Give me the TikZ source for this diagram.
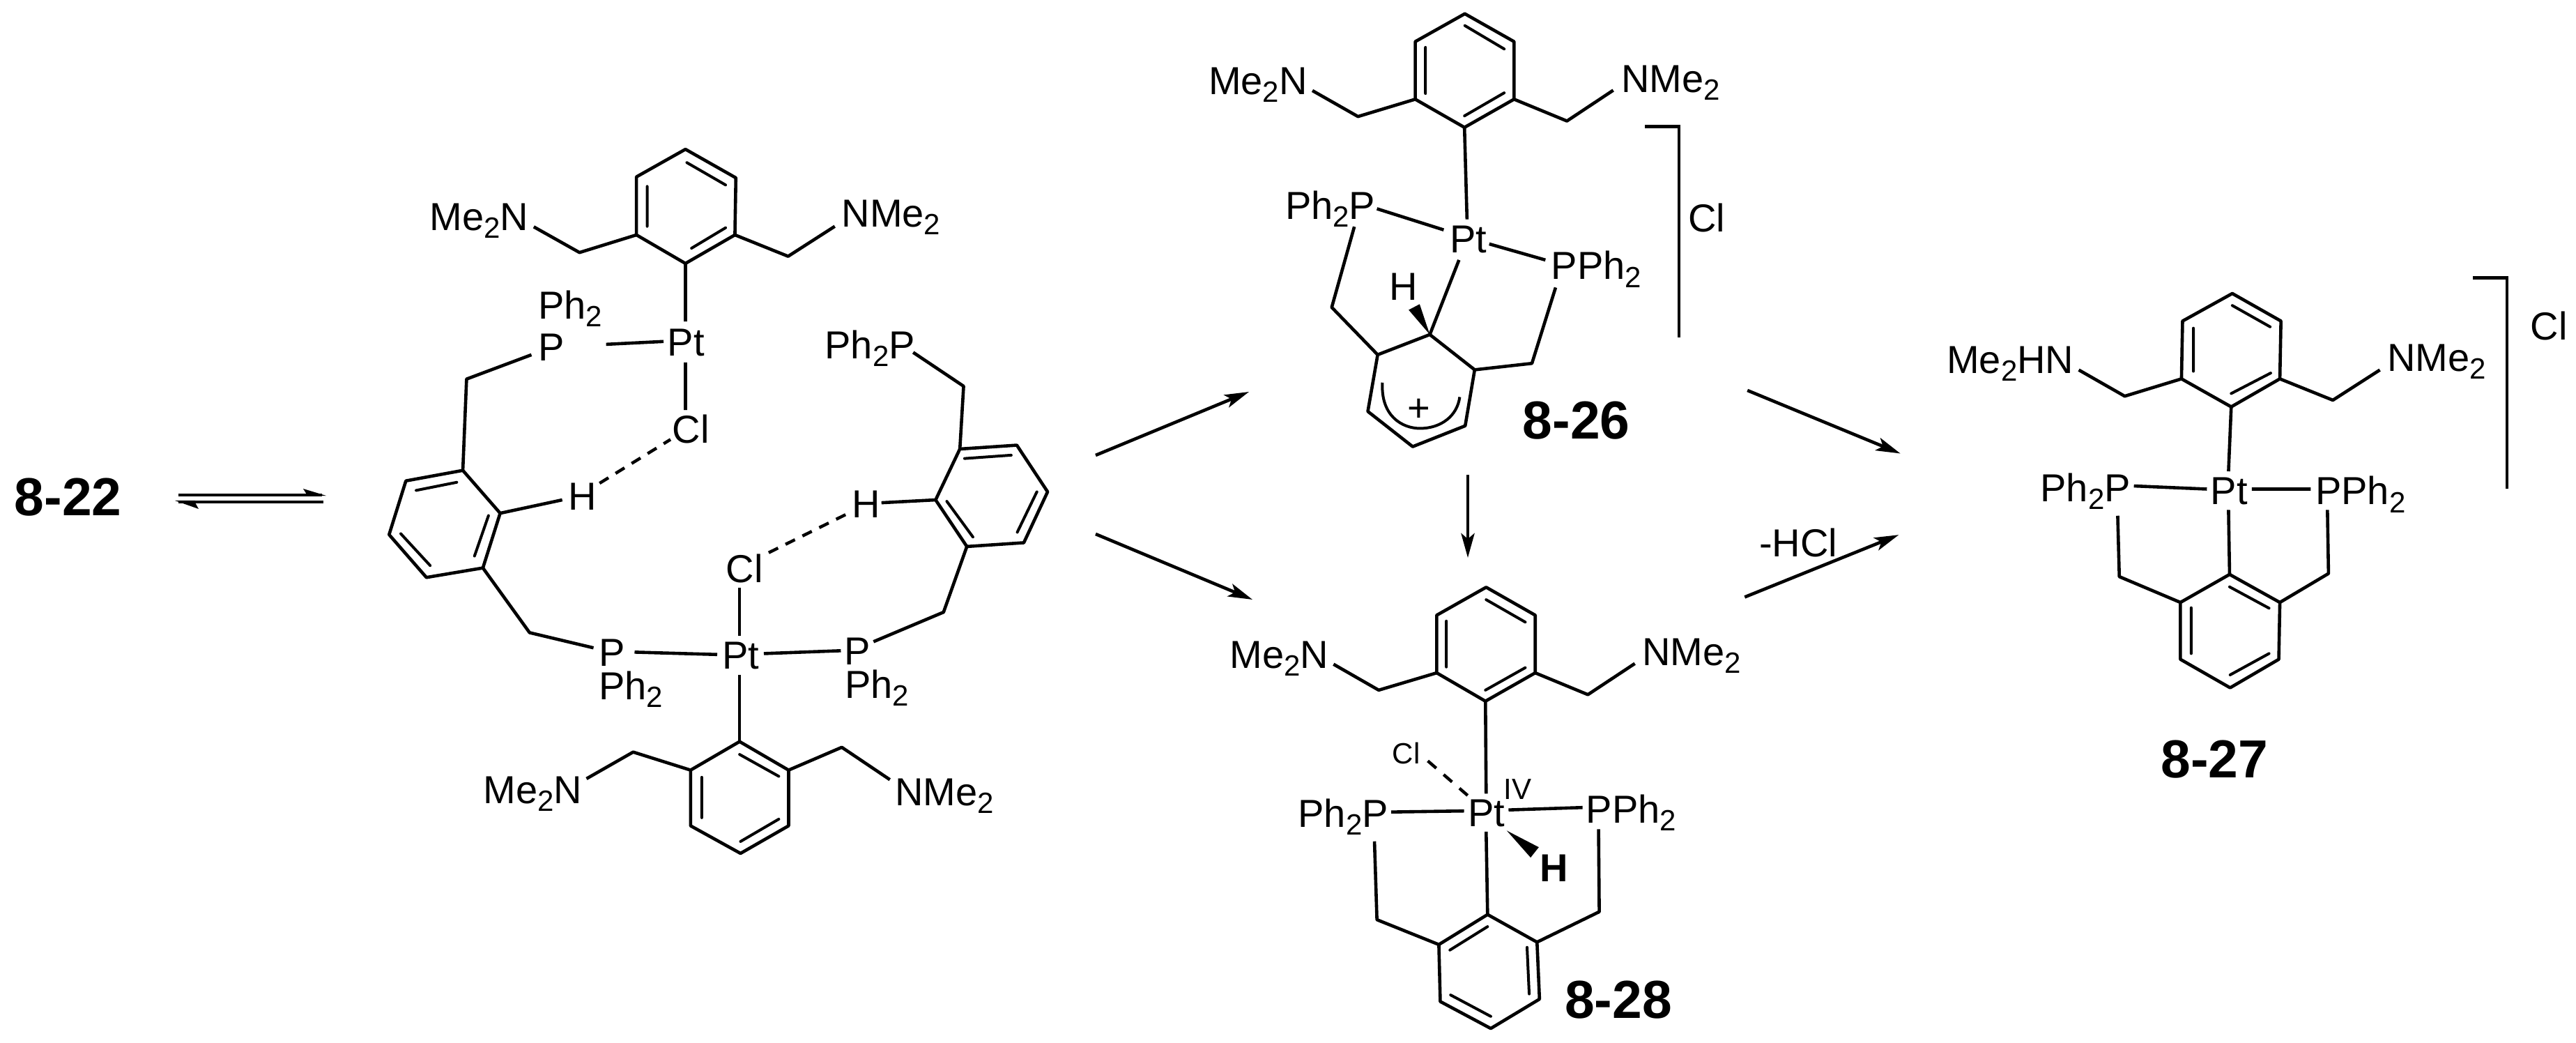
\documentclass[tikz,border=0pt]{standalone}
\usepackage{fontspec}
\setmainfont{Liberation Sans}
\usetikzlibrary{arrows.meta}
\newcommand{\sbt}[1]{\raisebox{-2.8pt}{\fontsize{10.5}{10.5}\selectfont #1}}
\tikzset{
  lbl/.style={anchor=base west,inner sep=0pt,outer sep=0pt,xshift=-.2pt,font=\fontsize{14}{16}\selectfont},
  small/.style={anchor=base west,inner sep=0pt,outer sep=0pt,xshift=-.2pt,font=\fontsize{10.5}{12}\selectfont},
  cmpd/.style={anchor=base west,inner sep=0pt,outer sep=0pt,font=\fontsize{19.2}{22}\selectfont\bfseries},
  bond/.style={line width=1.15pt,line join=round},
  dblb/.style={line width=1pt,line cap=round},
  hbond/.style={line width=1.1pt,dash pattern=on 3.75pt off 3pt},
  rxn/.style={line width=1.15pt,-{Stealth[length=8.75pt,width=4.8pt,inset=2pt]}},
  brk/.style={line width=1.15pt,line join=miter},
  zA/.style={shift={(125pt,-45pt)},x=0.1674pt,y=-0.1706pt},
  zB/.style={shift={(420pt,0pt)},x=0.1308pt,y=-0.1148pt},
  zC/.style={shift={(425pt,-180pt)},x=0.1276pt,y=-0.1238pt},
  zD/.style={shift={(620pt,-37.5pt)},x=0.1939pt,y=-0.1594pt},
  px/.style={x=0.25pt,y=-0.25pt}
}
\begin{document}
\begin{tikzpicture}
\useasboundingbox (0,0) rectangle (924pt,-374pt);
% ---------- left label and equilibrium arrows
\begin{scope}[px]
\node[cmpd] (n822) at (21,740) {8-22};
\path (256,710) coordinate (eqa1) (462,710) coordinate (eqa2) (468,711) coordinate (eqa3) (435,701) coordinate (eqa4)
      (464,720) coordinate (eqb1) (256,720) coordinate (eqb2) (251,718) coordinate (eqb3) (285,730) coordinate (eqb4);
\draw[bond] (eqa1) -- (eqa2);
\fill (eqa3) -- (eqa4) -- (440,709) -- (440,712) -- cycle;
\draw[bond] (eqb1) -- (eqb2);
\fill (eqb3) -- (eqb4) -- (280,721) -- (280,718) -- cycle;
% reaction arrows
\path (1572,653) coordinate (r1s) (1792,562) coordinate (r1e)
      (1572,766) coordinate (r2s) (1797,860) coordinate (r2e)
      (2106,681) coordinate (r3s) (2106,800) coordinate (r3e);
\draw[rxn] (r1s) -- (r1e);
\draw[rxn] (r2s) -- (r2e);
\draw[rxn] (r3s) -- (r3e);
\end{scope}
% ---------- structure 8-22 dimer
\begin{scope}[zA]
\path (722,50) coordinate (a1) (830,110) coordinate (a2) (828,230) coordinate (a3) (722,290) coordinate (a4) (617,230) coordinate (a5) (617,108) coordinate (a6)
 (725,78) coordinate (ai1) (808,125) coordinate (ai2) (640,128) coordinate (ai3) (640,212) coordinate (ai4) (808,215) coordinate (ai5) (735,258) coordinate (ai6)
 (495,267) coordinate (am1) (397,213) coordinate (am2) (942,275) coordinate (am3) (1042,212) coordinate (am4)
 (722,412) coordinate (apt1) (552,460) coordinate (ap1) (675,454) coordinate (apt2) (722,498) coordinate (apt3) (722,598) coordinate (acl)
 (392,482) coordinate (ap2) (253,533) coordinate (ach)
 (245,725) coordinate (b1) (325,815) coordinate (b2) (288,930) coordinate (b3) (167,950) coordinate (b4) (87,860) coordinate (b5) (123,747) coordinate (b6)
 (232,750) coordinate (bi1) (145,767) coordinate (bi2) (300,820) coordinate (bi3) (270,905) coordinate (bi4) (175,925) coordinate (bi5) (112,858) coordinate (bi6)
 (458,787) coordinate (bh) (538,752) coordinate (bd1) (690,660) coordinate (bd2)
 (388,1066) coordinate (bm) (525,1098) coordinate (bp)
 (613,1107) coordinate (cp1) (790,1112) coordinate (cpt1) (890,1110) coordinate (cpt2) (1055,1104) coordinate (cp2)
 (1125,1085) coordinate (cp3) (1275,1023) coordinate (cm)
 (1325,885) coordinate (d1) (1447,877) coordinate (d2) (1498,770) coordinate (d3) (1432,672) coordinate (d4) (1310,680) coordinate (d5) (1258,787) coordinate (d6)
 (1320,700) coordinate (di1) (1420,693) coordinate (di2) (1475,770) coordinate (di3) (1433,855) coordinate (di4) (1338,865) coordinate (di5) (1282,790) coordinate (di6)
 (1142,793) coordinate (dh) (1065,818) coordinate (dd1) (892,902) coordinate (dd2)
 (838,972) coordinate (ccl1) (838,1072) coordinate (ccl2)
 (1210,477) coordinate (dp) (1318,548) coordinate (dm)
 (838,1155) coordinate (cc1) (838,1295) coordinate (e1) (943,1355) coordinate (e2) (943,1472) coordinate (e3) (840,1530) coordinate (e4) (733,1472) coordinate (e5) (733,1355) coordinate (e6)
 (838,1322) coordinate (ei1) (922,1368) coordinate (ei2) (922,1458) coordinate (ei3) (840,1505) coordinate (ei4) (757,1370) coordinate (ei5) (757,1455) coordinate (ei6)
 (610,1317) coordinate (em1) (510,1373) coordinate (em2) (1057,1307) coordinate (em3) (1160,1375) coordinate (em4);
\draw[bond] (a1)--(a2)--(a3)--(a4)--(a5)--(a6)--cycle;
\draw[dblb] (ai1)--(ai2) (ai3)--(ai4) (ai5)--(ai6);
\draw[bond] (a5)--(am1)--(am2) (a3)--(am3)--(am4);
\draw[bond] (a4)--(apt1) (ap1)--(apt2) (apt3)--(acl);
\draw[bond] (ap2)--(ach)--(b1);
\draw[bond] (b1)--(b2)--(b3)--(b4)--(b5)--(b6)--cycle;
\draw[dblb] (bi1)--(bi2) (bi3)--(bi4) (bi5)--(bi6);
\draw[bond] (b2)--(bh);
\draw[hbond] (bd1)--(bd2);
\draw[bond] (b3)--(bm)--(bp);
\draw[bond] (cp1)--(cpt1) (cpt2)--(cp2);
\draw[bond] (cp3)--(cm)--(d1);
\draw[bond] (d1)--(d2)--(d3)--(d4)--(d5)--(d6)--cycle;
\draw[dblb] (di1)--(di2) (di3)--(di4) (di5)--(di6);
\draw[bond] (d6)--(dh);
\draw[hbond] (dd1)--(dd2);
\draw[bond] (ccl1)--(ccl2);
\draw[bond] (dp)--(dm)--(d5);
\draw[bond] (cc1)--(e1);
\draw[bond] (e1)--(e2)--(e3)--(e4)--(e5)--(e6)--cycle;
\draw[dblb] (ei1)--(ei2) (ei3)--(ei4) (ei5)--(ei6);
\draw[bond] (e6)--(em1)--(em2) (e2)--(em3)--(em4);
\node[lbl] (am) at (175,220) {Me\sbt{2}N};
\node[lbl] (an) at (1058,213) {NMe\sbt{2}};
\node[lbl] (apt) at (685,485) {Pt};
\node[lbl] (aph) at (408,407) {Ph\sbt{2}};
\node[lbl] (ap) at (408,495) {P};
\node[lbl] (acll) at (695,668) {Cl};
\node[lbl] (bhh) at (472,808) {H};
\node[lbl] (bpp) at (538,1137) {P};
\node[lbl] (bph) at (538,1207) {Ph\sbt{2}};
\node[lbl] (cpt) at (802,1143) {Pt};
\node[lbl] (cpp) at (1063,1133) {P};
\node[lbl] (cph) at (1065,1204) {Ph\sbt{2}};
\node[lbl] (dhh) at (1080,825) {H};
\node[lbl] (ccll) at (810,960) {Cl};
\node[lbl] (dpp) at (1022,490) {Ph\sbt{2}P};
\node[lbl] (em) at (290,1425) {Me\sbt{2}N};
\node[lbl] (en) at (1172,1430) {NMe\sbt{2}};
\end{scope}
% ---------- structure 8-26
\begin{scope}[zB]
\path (806,43) coordinate (f1) (941,130) coordinate (f2) (941,310) coordinate (f3) (805,398) coordinate (f4) (670,310) coordinate (f5) (670,130) coordinate (f6)
 (806,80) coordinate (fi1) (914,153) coordinate (fi2) (698,148) coordinate (fi3) (698,292) coordinate (fi4) (914,290) coordinate (fi5) (805,362) coordinate (fi6)
 (513,364) coordinate (fm1) (388,283) coordinate (fm2) (1086,378) coordinate (fm3) (1213,282) coordinate (fm4)
 (812,685) coordinate (fpt1) (565,652) coordinate (fp1) (748,718) coordinate (fpt2) (873,762) coordinate (fpt3) (1027,812) coordinate (fp2)
 (503,708) coordinate (fp3) (441,960) coordinate (fm5) (1055,898) coordinate (fp4) (990,1135) coordinate (fm6)
 (567,1108) coordinate (g1) (710,1045) coordinate (g2) (833,1155) coordinate (g3) (807,1330) coordinate (g4) (663,1395) coordinate (g5) (540,1285) coordinate (g6)
 (790,812) coordinate (fpt4) (652,968) coordinate (w1) (682,950) coordinate (w2)
 (580,1195) coordinate (ar1) (683,1338) coordinate (ar2) (792,1240) coordinate (ar3)
 (1300,395) coordinate (k1) (1393,395) coordinate (k2) (1393,1053) coordinate (k3);
\draw[bond] (f1)--(f2)--(f3)--(f4)--(f5)--(f6)--cycle;
\draw[dblb] (fi1)--(fi2) (fi3)--(fi4) (fi5)--(fi6);
\draw[bond] (f5)--(fm1)--(fm2) (f3)--(fm3)--(fm4);
\draw[bond] (f4)--(fpt1) (fp1)--(fpt2) (fpt3)--(fp2);
\draw[bond] (fp3)--(fm5)--(g1) (fp4)--(fm6)--(g3);
\draw[bond] (g1)--(g2)--(g3)--(g4)--(g5)--(g6)--cycle;
\draw[bond] (fpt4)--(g2);
\fill (g2)--(w1)--(w2)--cycle;
\draw[line width=1pt] (ar1) .. controls (575,1300) and (635,1338) .. (ar2) .. controls (740,1338) and (785,1300) .. (ar3);
\draw[brk] (k1)--(k2)--(k3);
\node[lbl] (fme) at (105,295) {Me\sbt{2}N};
\node[lbl] (fn) at (1237,288) {NMe\sbt{2}};
\node[lbl] (fpt) at (767,790) {Pt};
\node[lbl] (fpl) at (315,685) {Ph\sbt{2}P};
\node[lbl] (fpr) at (1045,873) {PPh\sbt{2}};
\node[lbl] (fh) at (600,938) {H};
\node[lbl] (fplus) at (650,1316) {+};
\node[cmpd] (n826) at (965,1370) {8-26};
\node[lbl] (fcl) at (1420,725) {Cl};
\end{scope}
% ---------- structure 8-28
\begin{scope}[zC]
\path (847,247) coordinate (h1) (985,328) coordinate (h2) (985,495) coordinate (h3) (845,577) coordinate (h4) (708,495) coordinate (h5) (708,328) coordinate (h6)
 (847,283) coordinate (hi1) (957,348) coordinate (hi2) (735,345) coordinate (hi3) (735,478) coordinate (hi4) (957,480) coordinate (hi5) (845,545) coordinate (hi6)
 (545,545) coordinate (hm1) (418,470) coordinate (hm2) (1133,558) coordinate (hm3) (1265,468) coordinate (hm4)
 (847,845) coordinate (hpt1) (683,750) coordinate (hd1) (795,850) coordinate (hd2)
 (580,898) coordinate (hp1) (785,895) coordinate (hpt2) (910,892) coordinate (hpt3) (1118,885) coordinate (hp2)
 (905,952) coordinate (hw0) (995,1000) coordinate (hw1) (972,1030) coordinate (hw2)
 (847,955) coordinate (hpt4)
 (851,1195) coordinate (j1) (990,1275) coordinate (j2) (997,1440) coordinate (j3) (860,1525) coordinate (j4) (718,1447) coordinate (j5) (714,1282) coordinate (j6)
 (851,1230) coordinate (ji1) (745,1298) coordinate (ji2) (962,1290) coordinate (ji3) (968,1425) coordinate (ji4) (860,1490) coordinate (ji5) (747,1428) coordinate (ji6)
 (533,983) coordinate (hp3) (540,1210) coordinate (hm5) (1163,948) coordinate (hp4) (1165,1187) coordinate (hm6);
\draw[bond] (h1)--(h2)--(h3)--(h4)--(h5)--(h6)--cycle;
\draw[dblb] (hi1)--(hi2) (hi3)--(hi4) (hi5)--(hi6);
\draw[bond] (h5)--(hm1)--(hm2) (h3)--(hm3)--(hm4);
\draw[bond] (h4)--(hpt1);
\draw[hbond,dash pattern=on 4pt off 3.5pt] (hd1)--(hd2);
\draw[bond] (hp1)--(hpt2) (hpt3)--(hp2);
\fill (hw0)--(hw1)--(hw2)--cycle;
\draw[bond] (hpt4)--(j1);
\draw[bond] (j1)--(j2)--(j3)--(j4)--(j5)--(j6)--cycle;
\draw[dblb] (ji1)--(ji2) (ji3)--(ji4) (ji5)--(ji6);
\draw[bond] (hp3)--(hm5)--(j6) (hp4)--(hm6)--(j2);
\node[lbl] (hme) at (128,482) {Me\sbt{2}N};
\node[lbl] (hn) at (1287,473) {NMe\sbt{2}};
\node[lbl] (hpt) at (798,940) {Pt};
\node[small] (hiv) at (898,862) {IV};
\node[small] (hcl) at (585,758) {Cl};
\node[lbl] (hpl) at (320,942) {Ph\sbt{2}P};
\node[lbl] (hpr) at (1130,930) {PPh\sbt{2}};
\node[lbl,font=\fontsize{14}{16}\selectfont\bfseries] (hh) at (1000,1100) {H};
\node[cmpd] (n828) at (1068,1495) {8-28};
\end{scope}
% ---------- structure 8-27
\begin{scope}[zD]
\path (932,425) coordinate (m1) (1022,487) coordinate (m2) (1020,617) coordinate (m3) (930,680) coordinate (m4) (838,617) coordinate (m5) (840,487) coordinate (m6)
 (932,452) coordinate (mi1) (1002,500) coordinate (mi2) (860,503) coordinate (mi3) (860,600) coordinate (mi4) (1003,604) coordinate (mi5) (930,650) coordinate (mi6)
 (733,656) coordinate (mm1) (648,597) coordinate (mm2) (1118,665) coordinate (mm3) (1205,597) coordinate (mm4)
 (925,825) coordinate (mpt1) (750,858) coordinate (mp1) (885,865) coordinate (mpt2) (968,865) coordinate (mpt3) (1077,865) coordinate (mp2) (925,912) coordinate (mpt4)
 (927,1057) coordinate (o1) (1020,1120) coordinate (o2) (1018,1248) coordinate (o3) (928,1312) coordinate (o4) (836,1248) coordinate (o5) (836,1120) coordinate (o6)
 (927,1085) coordinate (oi1) (1000,1133) coordinate (oi2) (856,1132) coordinate (oi3) (856,1235) coordinate (oi4) (1000,1235) coordinate (oi5) (928,1283) coordinate (oi6)
 (720,925) coordinate (mp3) (723,1062) coordinate (mm5) (1108,912) coordinate (mp4) (1110,1055) coordinate (mm6)
 (1377,390) coordinate (q1) (1440,390) coordinate (q2) (1440,865) coordinate (q3)
 (35,643) coordinate (r4s) (318,785) coordinate (r4e) (30,1108) coordinate (r5s) (315,968) coordinate (r5e);
\draw[bond] (m1)--(m2)--(m3)--(m4)--(m5)--(m6)--cycle;
\draw[dblb] (mi1)--(mi2) (mi3)--(mi4) (mi5)--(mi6);
\draw[bond] (m5)--(mm1)--(mm2) (m3)--(mm3)--(mm4);
\draw[bond] (m4)--(mpt1) (mp1)--(mpt2) (mpt3)--(mp2) (mpt4)--(o1);
\draw[bond] (o1)--(o2)--(o3)--(o4)--(o5)--(o6)--cycle;
\draw[dblb] (oi1)--(oi2) (oi3)--(oi4) (oi5)--(oi6);
\draw[bond] (mp3)--(mm5)--(o6) (mp4)--(mm6)--(o2);
\draw[brk] (q1)--(q2)--(q3);
\draw[rxn] (r4s)--(r4e);
\draw[rxn] (r5s)--(r5e);
\node[lbl] (mme) at (405,605) {Me\sbt{2}HN};
\node[lbl] (mn) at (1220,600) {NMe\sbt{2}};
\node[lbl] (mpt) at (893,900) {Pt};
\node[lbl] (mpl) at (578,893) {Ph\sbt{2}P};
\node[lbl] (mpr) at (1087,900) {PPh\sbt{2}};
\node[cmpd] (n827) at (800,1515) {8-27};
\node[lbl] (mcl) at (1485,530) {Cl};
\node[lbl] (mhcl) at (58,1017) {-HCl};
\end{scope}
\end{tikzpicture}
\end{document}
